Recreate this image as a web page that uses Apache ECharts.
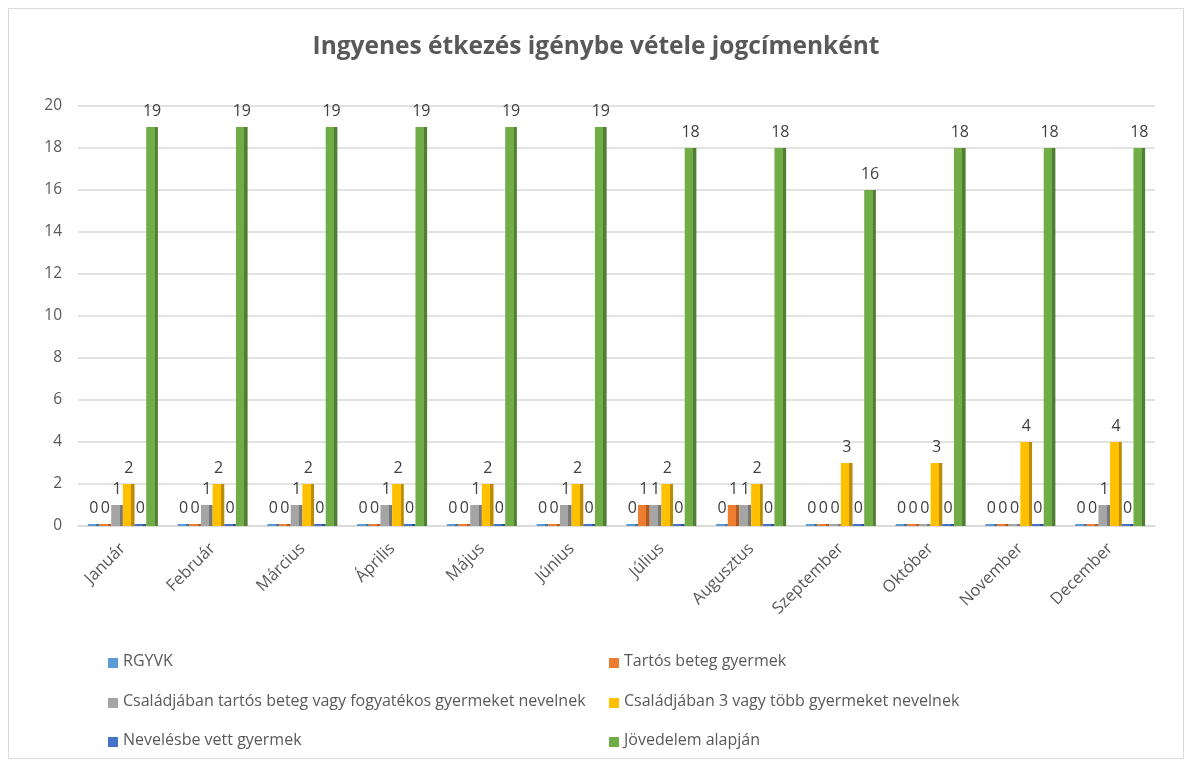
<!DOCTYPE html>
<html><head><meta charset="utf-8">
<script src="https://cdn.jsdelivr.net/npm/echarts@6/dist/echarts.min.js"></script>
<style>html,body{margin:0;padding:0;background:#fff}#c{width:1192px;height:765px}
#frame{position:absolute;left:8px;top:8px;width:1176px;height:751px;border:1px solid #d9d9d9;box-sizing:border-box;pointer-events:none}</style>
</head><body><div id="c"></div><div id="frame"></div>
<script>
const categories = ['Január','Február','Március','Április','Május','Június','Július','Augusztus','Szeptember','Október','November','December'];
const seriesNames = ['RGYVK','Tartós beteg gyermek','Családjában tartós beteg vagy fogyatékos gyermeket nevelnek','Családjában 3 vagy több gyermeket nevelnek','Nevelésbe vett gyermek','Jövedelem alapján'];
const rgyvk = [0,0,0,0,0,0,0,0,0,0,0,0];
const tartosBeteg = [0,0,0,0,0,0,1,1,0,0,0,0];
const csaladTartos = [1,1,1,1,1,1,1,1,0,0,0,1];
const csalad3 = [2,2,2,2,2,2,2,2,3,3,4,4];
const nevelesbe = [0,0,0,0,0,0,0,0,0,0,0,0];
const jovedelem = [19,19,19,19,19,19,18,18,16,18,18,18];
const yTicks = [0,2,4,6,8,10,12,14,16,18,20];

const values = [rgyvk, tartosBeteg, csaladTartos, csalad3, nevelesbe, jovedelem];
const colors = ['#5b9bd5','#ed7d31','#a5a5a5','#ffc000','#4472c4','#70ad47'];
const sideColors = ['#41719c','#ae5a21','#787878','#bc8c00','#2f528f','#507e32'];
const font = '"Open Sans", "Liberation Sans", sans-serif';

const chart = echarts.init(document.getElementById('c'));
chart.setOption({
  animation:false,
  title:{text:'Ingyenes étkezés igénybe vétele jogcímenként',left:'center',top:30,
    textStyle:{fontFamily:font,fontSize:24.5,fontWeight:'bold',color:'#595959'}},
  legend:{show:false},
  grid:{left:78,right:37,top:106,bottom:239},
  xAxis:{type:'category',data:categories,
    axisLine:{lineStyle:{color:'#d9d9d9',width:1.5}},axisTick:{show:false},
    axisLabel:{rotate:45,fontFamily:font,fontSize:16.5,color:'#595959',margin:20}},
  yAxis:{type:'value',min:yTicks[0],max:yTicks[yTicks.length-1],interval:2,
    axisLabel:{fontFamily:font,fontSize:15.5,color:'#595959',margin:16},
    splitLine:{lineStyle:{color:'#d9d9d9',width:1.5}},axisLine:{show:false}},
  series:values.map((v,i)=>({
    name:seriesNames[i],type:'bar',data:v,barGap:'0%',barCategoryGap:'22%',
    barMinHeight:2,
    itemStyle:{color:{type:'linear',x:0,y:0,x2:1,y2:0,colorStops:[{offset:0,color:colors[i]},{offset:0.72,color:colors[i]},{offset:0.72,color:sideColors[i]},{offset:1,color:sideColors[i]}]}},
    label:{show:true,position:'top',distance:8,fontFamily:font,fontSize:16,color:'#404040'}
  }))
});

// legend drawn as graphic entries in two columns
const legendPos = [[108,663],[609,663],[108,703],[609,703],[108,742],[609,742]];
chart.setOption({graphic:seriesNames.map((n,i)=>({
  type:'group',left:legendPos[i][0],top:legendPos[i][1]-10,children:[
    {type:'rect',shape:{x:0,y:5,width:10,height:10},style:{fill:colors[i]}},
    {type:'text',x:15,y:0,style:{text:n,font:'16px '+font,fill:'#595959'}}
  ]}))});
</script></body></html>
